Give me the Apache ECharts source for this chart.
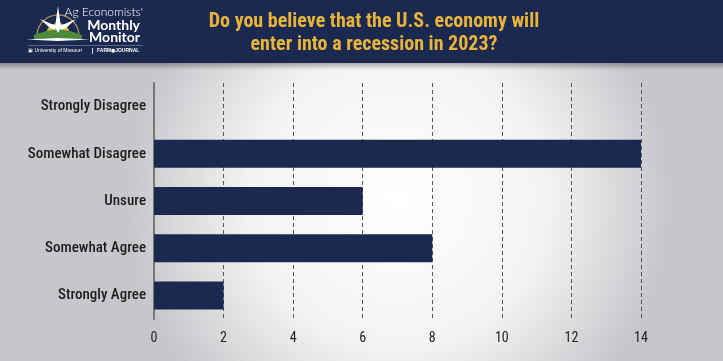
<!DOCTYPE html>
<html><head><meta charset="utf-8">
<script src="https://cdn.jsdelivr.net/npm/echarts@6/dist/echarts.min.js"></script>
<style>html,body{margin:0;padding:0;}#c{width:723px;height:361px;}</style>
</head><body><div id="c"></div>
<script>
var categories = ['Strongly Disagree','Somewhat Disagree','Unsure','Somewhat Agree','Strongly Agree'];
var responses = [0, 14, 6, 8, 2];
var titleLines = ['Do you believe that the U.S. economy will','enter into a recession in 2023?'];
var xTicks = [0,2,4,6,8,10,12,14];

var NAVY = '#1b2850';
var COND = '"Liberation Sans Narrow","Roboto Condensed","DejaVu Sans Condensed",sans-serif';
var chart = echarts.init(document.getElementById('c'), null, {renderer:'canvas'});
chart.setOption({
  animation:false,
  backgroundColor:{type:'radial',x:0.55,y:0.55,r:0.75,colorStops:[{offset:0,color:'#ffffff'},{offset:0.55,color:'#f2f3f4'},{offset:1,color:'#c6c7ca'}]},
  grid:{left:154,right:82,top:83,bottom:42,containLabel:false},
  xAxis:{type:'value',min:0,max:14,interval:2,
    axisLine:{show:false},axisTick:{show:false},
    splitLine:{show:true,lineStyle:{color:'#555',type:[4,3],width:1}},
    axisLabel:{color:'#222',fontFamily:COND,fontSize:14,margin:12,
      formatter:function(v){return xTicks.indexOf(v)>=0?String(v):'';}}},
  yAxis:{type:'category',data:categories,inverse:true,
    axisLine:{show:true,lineStyle:{color:'#777',width:2}},axisTick:{show:false},
    axisLabel:{color:'#1e1e1e',fontFamily:COND,fontSize:15,fontWeight:500,margin:8}},
  series:[{type:'bar',data:responses,barWidth:28,itemStyle:{color:NAVY},z:3}],
  graphic:[
    {type:'rect',shape:{x:0,y:62,width:723,height:8},style:{fill:{type:'linear',x:0,y:0,x2:0,y2:1,colorStops:[{offset:0,color:'rgba(0,0,0,0.35)'},{offset:1,color:'rgba(0,0,0,0)'}]}},z:10},
    {type:'rect',shape:{x:0,y:0,width:723,height:63},style:{fill:NAVY},z:11},
    {type:'text',x:374,y:22,z:12,style:{text:titleLines[0],fill:'#e8b53a',font:'bold 20px '+COND,textAlign:'center',textVerticalAlign:'middle'}},
    {type:'text',x:374,y:45,z:12,style:{text:titleLines[1],fill:'#e8b53a',font:'bold 20px '+COND,textAlign:'center',textVerticalAlign:'middle'}},
    // logo
    {type:'arc',z:12,shape:{cx:58,cy:36,r:21,startAngle:Math.PI*0.95,endAngle:Math.PI*2.05},style:{stroke:'#b99a5a',lineWidth:1.2,fill:null}},
    {type:'sector',z:12,shape:{cx:58,cy:35,r:12,startAngle:Math.PI,endAngle:2*Math.PI},style:{fill:'#e4b846'}},
    {type:'polygon',z:13,shape:{points:[[34,35],[46,31],[58,29],[70,31],[82,35],[82,39],[34,39]]},style:{fill:'#4c8a3c'}},
    {type:'polygon',z:14,shape:{points:[[58,6],[61,27],[58,33],[55,27]]},style:{fill:'#ffffff'}},
    {type:'polygon',z:14,shape:{points:[[40,19],[56,26],[55,30],[50,28]]},style:{fill:'#ffffff'}},
    {type:'polygon',z:14,shape:{points:[[76,19],[60,26],[61,30],[66,28]]},style:{fill:'#ffffff'}},
    {type:'polygon',z:14,shape:{points:[[26,39.5],[58,38],[90,39.5],[58,41]]},style:{fill:'#ffffff'}},
    {type:'text',z:12,x:143,y:12,style:{text:"Ag Economists'",fill:'#ffffff',font:'300 12px Lato,sans-serif',textAlign:'right',textVerticalAlign:'middle'}},
    {type:'text',z:12,x:140,y:25,style:{text:'Monthly',fill:'#ffffff',font:'bold 14px Lato,sans-serif',textAlign:'right',textVerticalAlign:'middle'}},
    {type:'text',z:12,x:140,y:37,style:{text:'Monitor',fill:'#ffffff',font:'bold 14px Lato,sans-serif',textAlign:'right',textVerticalAlign:'middle'}},
    {type:'rect',z:12,shape:{x:28,y:45,width:115,height:0.8},style:{fill:'#6f7a98'}},
    {type:'text',z:12,x:28,y:51,style:{text:'\u25A3 University of Missouri',fill:'#ffffff',font:'5px sans-serif',textVerticalAlign:'middle'}},
    {type:'rect',z:12,shape:{x:92,y:48,width:0.8,height:6},style:{fill:'#ffffff'}},
    {type:'text',z:12,x:97,y:51,style:{text:'FARM\u25C9JOURNAL',fill:'#ffffff',font:'bold 5px sans-serif',textVerticalAlign:'middle'}}
  ]
});
</script></body></html>
